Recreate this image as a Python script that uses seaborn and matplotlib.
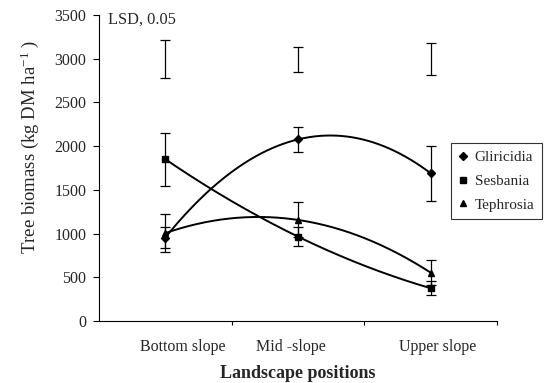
import numpy as np
import pandas as pd
import matplotlib
matplotlib.use("Agg")
import matplotlib.pyplot as plt
import seaborn as sns

# ---- data ----
positions = ["Bottom slope", "Mid -slope", "Upper slope"]
species = ["Gliricidia", "Sesbania", "Tephrosia"]
gliricidia = [955, 2077, 1690]
gliricidia_err = [125, 139, 316]
sesbania = [1850, 965, 375]
sesbania_err = [305, 112, 80]
tephrosia = [1005, 1156, 553]
tephrosia_err = [215, 200, 145]
lsd_center = [2996, 2996, 2996]
lsd_half = [219, 143, 181]
yticks = [0, 500, 1000, 1500, 2000, 2500, 3000, 3500]

sns.set_theme(style="white")
plt.rcParams["font.family"] = ["Liberation Serif", "DejaVu Serif"]
plt.rcParams["mathtext.fontset"] = "custom"
plt.rcParams["mathtext.rm"] = "Liberation Serif"
plt.rcParams["mathtext.it"] = "Liberation Serif:italic"

fig = plt.figure(figsize=(5.45, 3.83), dpi=100)
ax = fig.add_axes([99/545, 1-321/383, 398/545, 306/383])

x = np.arange(len(positions))
series = [(gliricidia, gliricidia_err, "D", 4.0),
          (sesbania, sesbania_err, "s", 4.5),
          (tephrosia, tephrosia_err, "^", 5.0)]

for name, (vals, errs, mk, ms) in zip(species, series):
    coef = np.polyfit(x, vals, 2)
    xs = np.linspace(0, 2, 200)
    df = pd.DataFrame({"x": xs, "y": np.polyval(coef, xs)})
    sns.lineplot(data=df, x="x", y="y", ax=ax, color="black", lw=1.4, legend=False)
    ax.errorbar(x, vals, yerr=errs, fmt="none", ecolor="black", elinewidth=0.9,
                capsize=3.5, capthick=0.9, zorder=3)
    ax.plot(x, vals, linestyle="none", marker=mk, markersize=ms, color="black",
            label=name, zorder=4)

ax.errorbar(x, lsd_center, yerr=lsd_half, fmt="none", ecolor="black",
            elinewidth=0.9, capsize=3.5, capthick=0.9)
ax.text(0.023, 3450, "LSD, 0.05", transform=ax.get_yaxis_transform(),
        ha="left", va="center", fontsize=11.8)

ax.set_xlim(-0.5, 2.5)
ax.set_ylim(0, 3500)
ax.set_yticks(yticks)
ax.set_yticklabels([str(v) for v in yticks], fontsize=11.5)
ax.set_xticks([0.5, 1.5, 2.5])
ax.set_xticklabels([])
ax.set_xticks([0.13, 0.95, 2.05], minor=True)
ax.set_xticklabels(positions, minor=True, fontsize=11.5)
ax.tick_params(axis="x", which="minor", length=0, pad=13)
ax.tick_params(axis="x", which="major", direction="out", length=3, width=0.8, color="black", bottom=True)
ax.tick_params(axis="y", direction="out", length=4, width=0.8, color="black", left=True, pad=5)

for s in ["top", "right"]:
    ax.spines[s].set_visible(False)
for s in ["left", "bottom"]:
    ax.spines[s].set_color("black")
    ax.spines[s].set_linewidth(0.8)

ax.set_xlabel("Landscape positions", fontsize=13, fontweight="bold", labelpad=7)
ax.set_ylabel("Tree biomass (kg DM ha$^{-1}$ )", fontsize=13.5)
ax.yaxis.set_label_coords((41 - 99)/398, (321-147)/306, transform=ax.transAxes)

leg = ax.legend(loc="upper left", bbox_to_anchor=(451/545, 1-143/383),
                bbox_transform=fig.transFigure, frameon=True, fancybox=False,
                fontsize=11, handlelength=0.6, handletextpad=0.45,
                labelspacing=0.65, borderpad=0.5, borderaxespad=0)
leg.get_frame().set_edgecolor("black")
leg.get_frame().set_linewidth(0.8)

fig.savefig("out.png", dpi=100)
